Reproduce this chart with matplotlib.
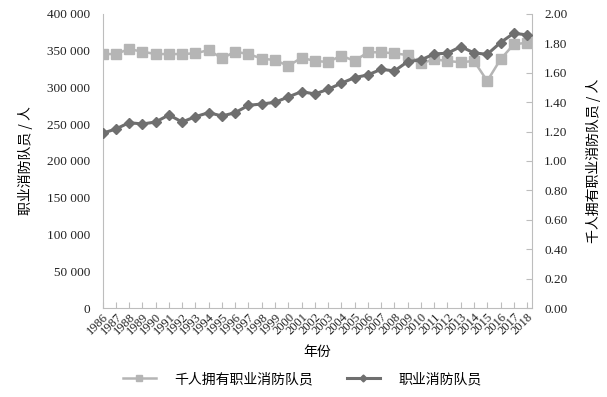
import matplotlib
matplotlib.use("Agg")
import matplotlib.pyplot as plt
from matplotlib.lines import Line2D

years = list(range(1986, 2019))
firefighters = [237700, 243500, 252100, 250300, 253000, 262600, 253000, 260300,
                265700, 261200, 265700, 275700, 277500, 279800, 287100, 294300,
                291100, 297500, 305700, 313400, 317000, 324700, 322400, 335100,
                337400, 345600, 346500, 355500, 347000, 345000, 361000, 373700,
                371400]
per_thousand = [1.727, 1.727, 1.761, 1.743, 1.727, 1.727, 1.727, 1.732,
                1.754, 1.698, 1.743, 1.727, 1.696, 1.686, 1.646, 1.702,
                1.680, 1.673, 1.716, 1.680, 1.739, 1.739, 1.732, 1.720,
                1.664, 1.691, 1.680, 1.671, 1.680, 1.544, 1.691, 1.793,
                1.804]
left_ticks = list(range(0, 400001, 50000))
right_ticks = [i * 0.2 for i in range(11)]

serif = ['Liberation Serif', 'Noto Sans CJK SC']
cjk = ['Noto Sans CJK SC', 'Liberation Serif']
plt.rcParams['font.family'] = serif

light = '#b5b5b5'
dark = '#6f6f6f'
axcol = '#bdbdbd'

fig = plt.figure(figsize=(6.07, 3.97), dpi=100)
ax = fig.add_axes([0.169, 0.224, 0.708, 0.741])
ax2 = ax.twinx()

x = list(range(len(years)))
ax.plot(x, firefighters, color=dark, lw=2.2, marker='D', ms=5.5, zorder=3)
ax2.plot(x, per_thousand, color=light, lw=1.8, marker='s', ms=6.5, zorder=2)
ax.set_zorder(ax2.get_zorder() + 1)
ax.patch.set_visible(False)

ax.set_xlim(0, len(years) - 1 + 0.4)
ax.set_ylim(0, 400000)
ax2.set_ylim(0, 2.0)
ax.set_yticks(left_ticks)
ax.set_yticklabels([f"{v:,}".replace(",", " ") for v in left_ticks], fontsize=9.5)
ax2.set_yticks(right_ticks)
ax2.set_yticklabels([f"{v:.2f}" for v in right_ticks], fontsize=9.5)
ax.set_xticks(x)
ax.set_xticklabels([str(y) for y in years], rotation=45, ha='right',
                   rotation_mode='anchor', fontsize=9)

for a in (ax, ax2):
    for s in a.spines.values():
        s.set_color(axcol)
    a.spines['top'].set_visible(False)
ax.spines['right'].set_visible(False)
ax2.spines['left'].set_visible(False)
ax2.spines['bottom'].set_visible(False)

ax.tick_params(axis='y', length=0, pad=9, colors='#222222')
ax.tick_params(axis='x', direction='in', length=4, color=axcol, pad=2, labelcolor='#222222')
ax2.tick_params(axis='y', direction='in', length=4, color=axcol, pad=8.5, labelcolor='#222222')

ax.set_ylabel('职业消防队员 / 人', family=cjk, fontsize=10, labelpad=10)
ax2.set_ylabel('千人拥有职业消防队员 / 人', family=cjk, fontsize=10, labelpad=13)
ax.set_xlabel('年份', family=cjk, fontsize=10, labelpad=6)

handles = [Line2D([], [], color=light, lw=1.8, marker='s', ms=4),
           Line2D([], [], color=dark, lw=2.2, marker='D', ms=3.5)]
fig.legend(handles, ['千人拥有职业消防队员', '职业消防队员'], loc='center',
           bbox_to_anchor=(0.498, 0.045), ncol=2, frameon=False,
           prop={'family': cjk, 'size': 10}, handlelength=2.4, columnspacing=2.4,
           handletextpad=1.35)

fig.savefig('out.png', dpi=100)
